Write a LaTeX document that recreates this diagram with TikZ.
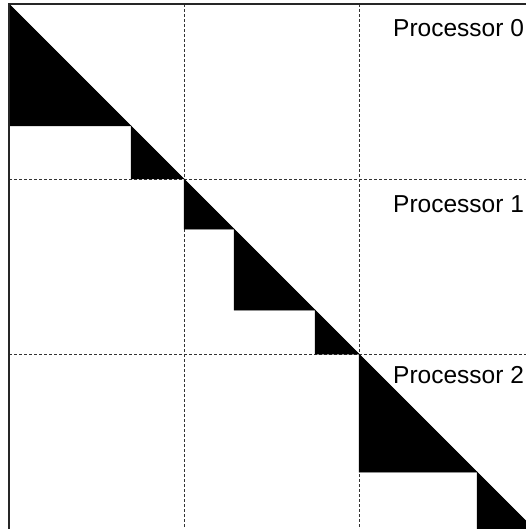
\documentclass[tikz,border=0pt]{standalone}
\usepackage{fontspec}
\setmainfont{Liberation Sans}
\begin{document}
\begin{tikzpicture}[x=1pt,y=-1pt,
  frame/.style={line width=1.2pt,draw=black!85},
  gridline/.style={line width=0.8pt,draw=black!80,dash pattern=on 3pt off 2pt},
  blockfill/.style={fill=black,draw=black,line width=0.5pt,line join=miter},
  proclabel/.style={anchor=base west,inner sep=0pt,font=\fontsize{24.5}{29}\selectfont}]
\useasboundingbox (0,0) rectangle (526,529);
\clip (0,0) rectangle (526,529);
% partition of the 3x3 grid
\draw[gridline] (184,4) -- (184,540);
\draw[gridline] (359,4) -- (359,540);
\draw[gridline] (9,179) -- (540,179);
\draw[gridline] (9,354) -- (540,354);
% diagonal blocks (lower triangles)
\foreach \a/\b in {0/122,122/175,175/225,225/306,306/350,350/468,468/525}{
  \filldraw[blockfill] (9+\a,4+\a) -- (9+\a,4+\b) -- (9+\b,4+\b) -- cycle;
}
% outer frame
\draw[frame] (9,540) -- (9,4) -- (540,4);
% processor labels
\node[proclabel] (p0) at (393,37) {Processor 0};
\node[proclabel] (p1) at (393,212) {Processor 1};
\node[proclabel] (p2) at (393,383) {Processor 2};
\end{tikzpicture}
\end{document}
